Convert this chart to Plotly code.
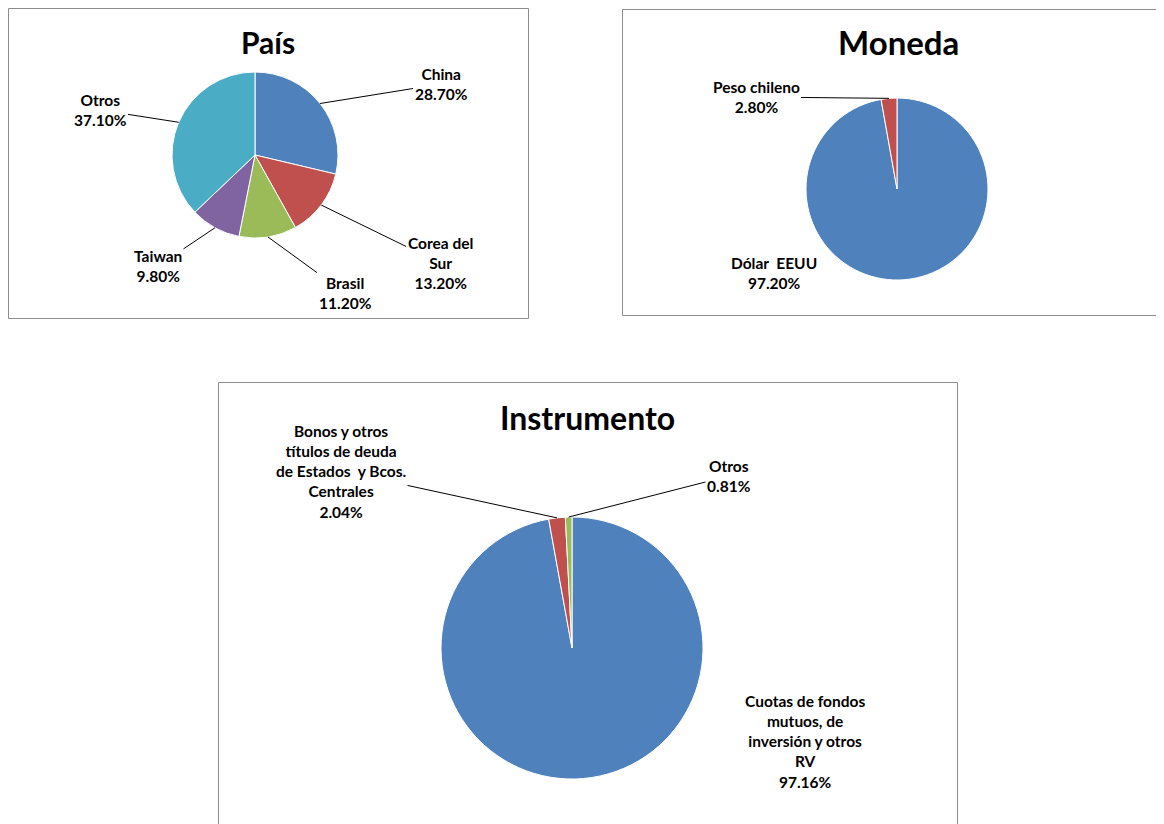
import math
import plotly.graph_objects as go

# ==============================
# DATA
# ==============================

pais_labels = ["China", "Corea del<br>Sur", "Brasil", "Taiwan", "Otros"]
pais_values = [28.70, 13.20, 11.20, 9.80, 37.10]

moneda_labels = ["Dólar  EEUU", "Peso chileno"]
moneda_values = [97.20, 2.80]

instr_labels = [
    "Cuotas de fondos<br>mutuos, de<br>inversión y otros<br>RV",
    "Bonos y otros<br>títulos de deuda<br>de Estados  y Bcos.<br>Centrales",
    "Otros",
]
instr_values = [97.16, 2.04, 0.81]

colors = ["#4F81BD", "#C0504D", "#9BBB59", "#8064A2", "#4BACC6"]

# ==============================
# LAYOUT (pixels, page coords)
# ==============================

PAGE = 8          # body margin of the html page
W, H = 1164 - PAGE, 824 - PAGE
FONT = "Lato"
LABEL_SIZE = 15.5

# pie centre x, y and radius
pies = [
    dict(labels=pais_labels, values=pais_values, cx=255, cy=155, r=83,
         title="País", tx=268, ty=42, tsize=30,
         offsets=[(186, -71), (185, 108), (90, 138), (-97, 111), (-155, -45)],
         arrows=[True, True, True, True, True]),
    dict(labels=moneda_labels, values=moneda_values, cx=897, cy=189, r=91,
         title="Moneda", tx=898, ty=42, tsize=33,
         offsets=[(-123, 84), (-141, -92)],
         arrows=[False, True]),
    dict(labels=instr_labels, values=instr_values, cx=572, cy=648, r=131,
         title="Instrumento", tx=587, ty=417, tsize=32,
         offsets=[(233, 93), (-231, -177), (157, -172)],
         arrows=[False, True, True]),
]

# chart frames as line segments (the right / bottom edges run off the page)
frame_lines = [
    (8.5, 8.5, 528.5, 8.5), (8.5, 318.5, 528.5, 318.5),
    (8.5, 8.5, 8.5, 318.5), (528.5, 8.5, 528.5, 318.5),
    (622.5, 9.5, 1164, 9.5), (622.5, 315.5, 1164, 315.5),
    (622.5, 9.5, 622.5, 315.5),
    (218.5, 382.5, 957.5, 382.5),
    (218.5, 382.5, 218.5, 824), (957.5, 382.5, 957.5, 824),
]


def px(x):
    return (x - PAGE) / W


def py(y):
    return 1 - (y - PAGE) / H


fig = go.Figure()
annotations = []

for p in pies:
    fig.add_trace(go.Pie(
        labels=p["labels"],
        values=p["values"],
        sort=False,
        direction="clockwise",
        rotation=0,
        textinfo="none",
        hoverinfo="skip",
        showlegend=False,
        marker=dict(colors=colors[:len(p["values"])],
                    line=dict(color="white", width=1)),
        domain=dict(x=[px(p["cx"] - p["r"]), px(p["cx"] + p["r"])],
                    y=[py(p["cy"] + p["r"]), py(p["cy"] - p["r"])]),
    ))

    annotations.append(dict(
        x=px(p["tx"]), y=py(p["ty"]), xref="paper", yref="paper",
        xanchor="center", yanchor="middle",
        text="<b>" + p["title"] + "</b>", showarrow=False,
        font=dict(family=FONT, size=p["tsize"], color="black"),
    ))

    # labels with leader lines to the middle of each slice
    total = sum(p["values"])
    cum = 0
    for lab, val, (ox, oy), arrow in zip(p["labels"], p["values"],
                                         p["offsets"], p["arrows"]):
        mid = (cum + val / 2) / total * 2 * math.pi
        cum += val
        ex = p["cx"] + p["r"] * math.sin(mid)
        ey = p["cy"] - p["r"] * math.cos(mid)
        lx = p["cx"] + ox
        ly = p["cy"] + oy
        text = "<b>" + lab + "<br>" + f"{val:.2f}%" + "</b>"
        if arrow:
            annotations.append(dict(
                x=px(ex), y=py(ey), xref="paper", yref="paper",
                ax=lx - ex, ay=ly - ey, axref="pixel", ayref="pixel",
                text=text, showarrow=True, arrowhead=0, arrowwidth=1,
                arrowcolor="black", standoff=0,
                font=dict(family=FONT, size=LABEL_SIZE, color="black"),
                align="center",
            ))
        else:
            annotations.append(dict(
                x=px(lx), y=py(ly), xref="paper", yref="paper",
                xanchor="center", yanchor="middle",
                text=text, showarrow=False,
                font=dict(family=FONT, size=LABEL_SIZE, color="black"),
                align="center",
            ))

shapes = [
    dict(type="line", xref="paper", yref="paper",
         x0=px(x0), y0=py(y0), x1=px(x1), y1=py(y1),
         line=dict(color="#8c8c8c", width=1), layer="below")
    for x0, y0, x1, y1 in frame_lines
]

fig.update_layout(
    width=W,
    height=H,
    margin=dict(l=0, r=0, t=0, b=0),
    paper_bgcolor="white",
    plot_bgcolor="white",
    annotations=annotations,
    shapes=shapes,
)

fig.write_html("out.html")
